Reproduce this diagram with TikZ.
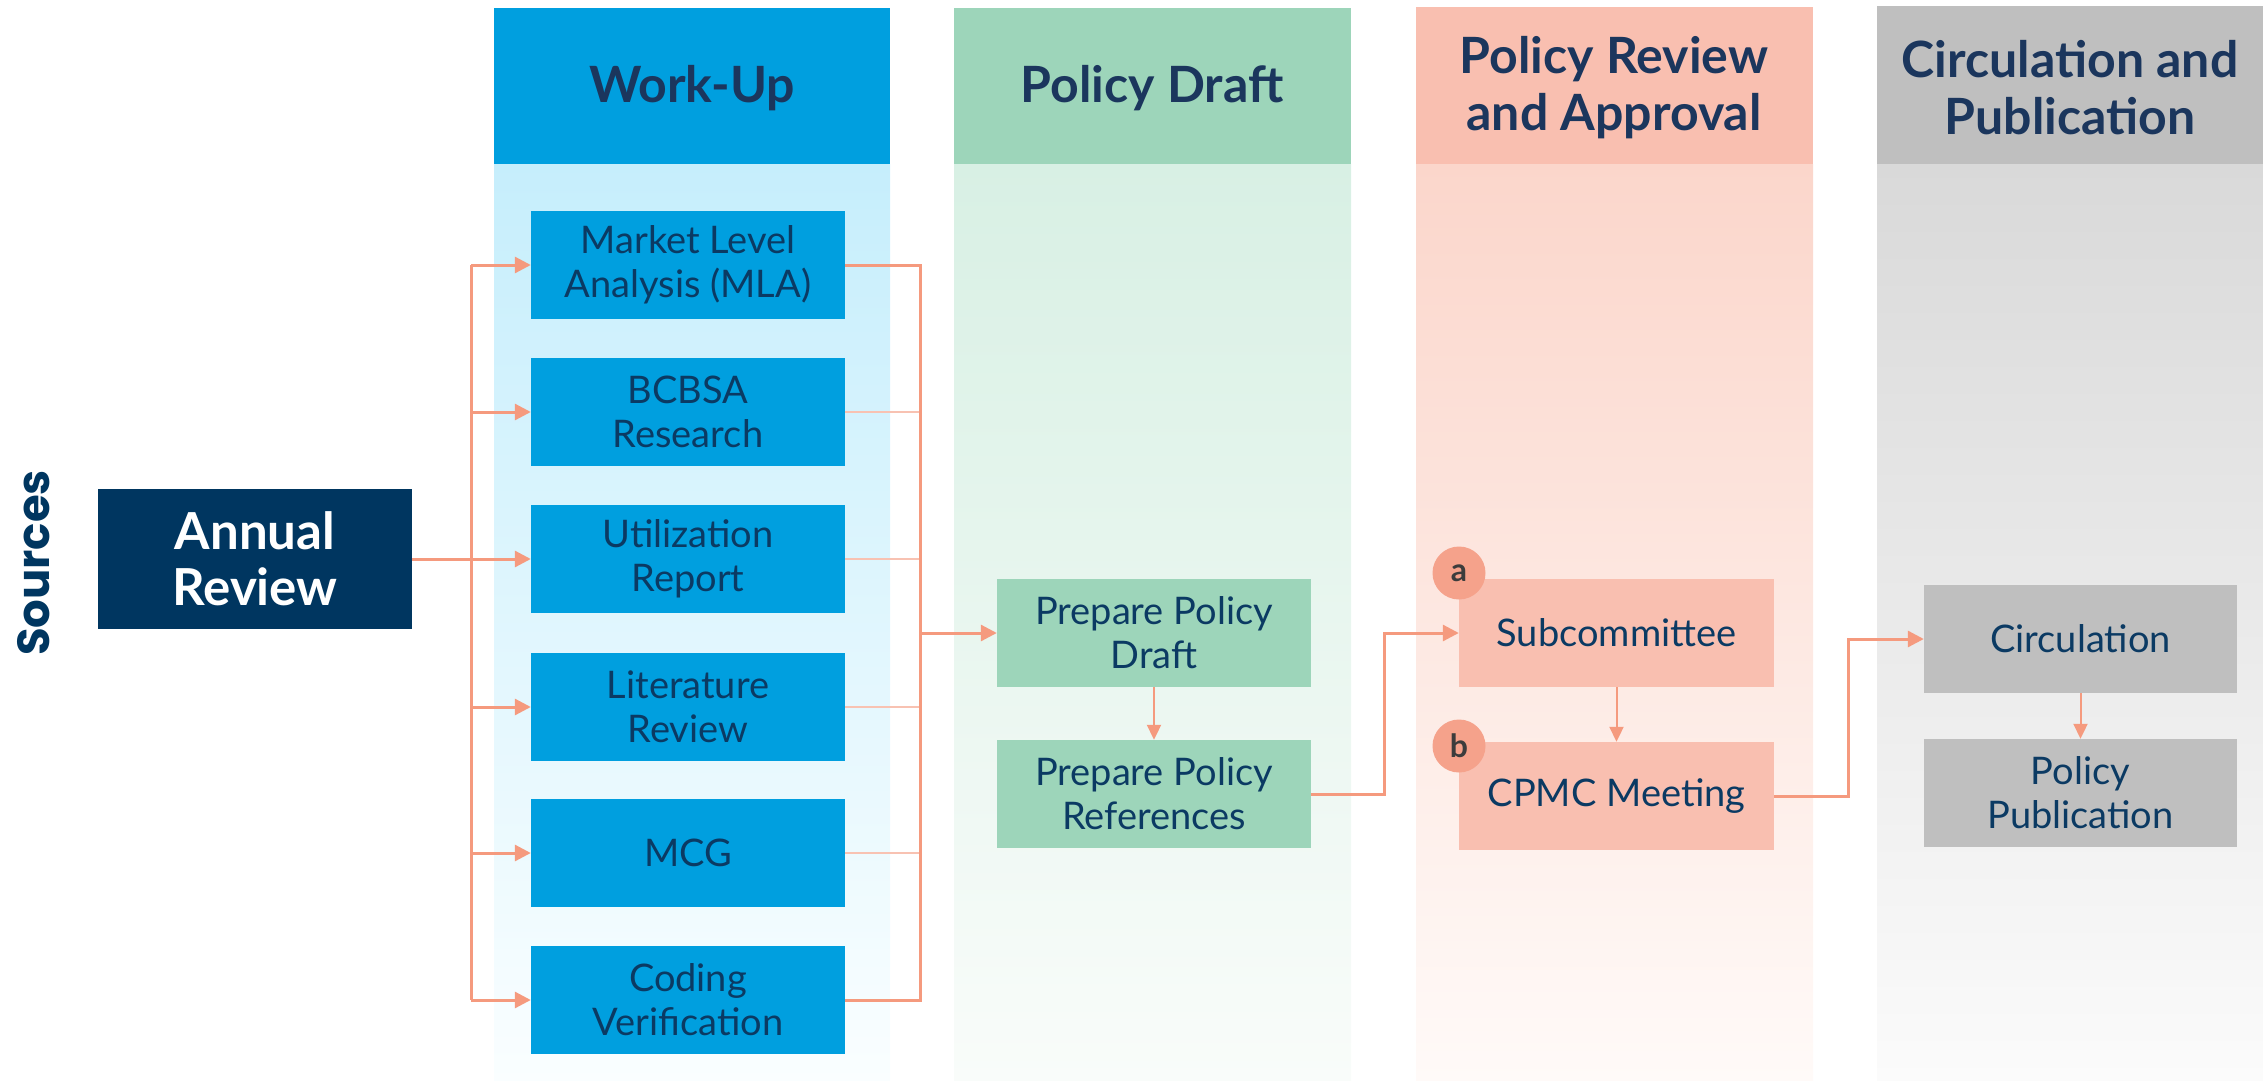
\documentclass[tikz,border=0pt]{standalone}
\usepackage{fontspec}
\setmainfont{Lato}
\newfontfamily\srcfont{Poppins}
\usetikzlibrary{arrows.meta}
\definecolor{wublue}{HTML}{009FDF}
\definecolor{navy}{HTML}{003660}
\definecolor{hdtext}{HTML}{1B365D}
\definecolor{bxtext}{HTML}{0B3A63}
\definecolor{pdgreen}{HTML}{9DD5BA}
\definecolor{prsalmon}{HTML}{F9BFB0}
\definecolor{cpgray}{HTML}{BFBFBF}
\definecolor{conn}{HTML}{F59A7E}
\definecolor{connlight}{HTML}{F8C2B2}
\definecolor{circ}{HTML}{F5A28B}
\definecolor{circtext}{HTML}{3C3C3C}
\tikzset{
  box/.style={rectangle, inner sep=0pt, minimum width=314pt, minimum height=108pt,
    align=center, text=bxtext, font=\fontsize{38}{44}\selectfont},
  hdr/.style={rectangle, inner sep=0pt, align=center, text=hdtext,
    font=\fontsize{50}{57}\selectfont\bfseries},
  mainconn/.style={draw=conn, line width=3pt},
  thinconn/.style={draw=connlight, line width=1.5pt},
  arr/.style={-{Triangle[length=16pt,width=16pt]}},
  smallarr/.style={draw=conn, line width=2pt, -{Triangle[length=15pt,width=14pt]}},
  badge/.style={circle, fill=circ, inner sep=0pt, minimum size=53pt, text=circtext,
    font=\fontsize{32}{34}\selectfont\bfseries}
}
\begin{document}
\begin{tikzpicture}[x=1pt,y=-1pt]
\useasboundingbox (0,0) rectangle (2263,1081);
% column bodies
\shade[top color={rgb,255:red,198;green,238;blue,252}, bottom color={rgb,255:red,250;green,254;blue,255}] (494,164) rectangle (890,1081);
\shade[top color={rgb,255:red,216;green,240;blue,228}, bottom color={rgb,255:red,249;green,252;blue,250}] (954,164) rectangle (1351,1081);
\shade[top color={rgb,255:red,251;green,214;blue,203}, bottom color={rgb,255:red,255;green,250;blue,248}] (1416,164) rectangle (1813,1081);
\shade[top color={rgb,255:red,217;green,217;blue,217}, bottom color={rgb,255:red,251;green,251;blue,251}] (1877,164) rectangle (2263,1081);
% headers
\fill[wublue] (494,8) rectangle (890,164);
\fill[pdgreen] (954,8) rectangle (1351,164);
\fill[prsalmon] (1416,7) rectangle (1813,164);
\fill[cpgray] (1877,6) rectangle (2263,164);
\node[hdr] (h1) at (692,88) {Work-Up};
\node[hdr] (h2) at (1152,88) {Policy Draft};
\node[hdr] (h3) at (1614,88) {Policy Review\\and Approval};
\node[hdr] (h4) at (2070,88) {Circulation and\\Publication};
% sources
\node[rotate=90, text=navy, font=\srcfont\fontsize{45}{50}\selectfont\bfseries] (src) at (34,563) {Sources};
% annual review
\node[box, fill=navy, text=white, minimum height=140pt, font=\fontsize{51}{56}\selectfont\bfseries] (ar) at (255,559) {Annual\\Review};
% work-up boxes
\node[box, fill=wublue] (mla) at (688,265) {Market Level\\Analysis (MLA)};
\node[box, fill=wublue] (bcb) at (688,412) {BCBSA\\Research};
\node[box, fill=wublue] (uti) at (688,559) {Utilization\\Report};
\node[box, fill=wublue] (lit) at (688,707) {Literature\\Review};
\node[box, fill=wublue] (mcg) at (688,853) {MCG};
\node[box, fill=wublue] (cod) at (688,1000) {Coding\\Verification};
% policy draft
\node[box, fill=pdgreen] (dra) at (1154,633) {Prepare Policy\\Draft};
\node[box, fill=pdgreen] (ref) at (1154,794) {Prepare Policy\\References};
% review
\node[box, fill=prsalmon, minimum width=315pt] (sub) at (1616.5,633) {Subcommittee};
\node[box, fill=prsalmon, minimum width=315pt] (cpm) at (1616.5,796) {CPMC Meeting};
% circulation
\node[box, fill=cpgray, minimum width=313pt] (cir) at (2080.5,639) {Circulation};
\node[box, fill=cpgray, minimum width=313pt] (pub) at (2080.5,793) {Policy\\Publication};
% badges
\node[badge] (ba) at (1459,573) {a};
\node[badge] (bb) at (1459,746) {b};
% buses
\coordinate (lb) at (471,0);
\coordinate (rb) at (920,0);
\coordinate (c1) at (1384,0);
\coordinate (c2) at (1848,0);
\draw[mainconn] (lb |- mla.west) -- (lb |- cod.west);
\draw[mainconn] (ar.east) -- (lb |- ar.east);
\foreach \b in {mla,bcb,uti,lit,mcg,cod}{
  \draw[mainconn, arr] (lb |- \b.west) -- (\b.west);
}
\foreach \b in {bcb,uti,lit,mcg}{
  \draw[thinconn] (\b.east) -- (rb |- \b.east);
}
\draw[mainconn] (mla.east) -- (rb |- mla.east) -- (rb |- cod.east) -- (cod.east);
\draw[mainconn, arr] (rb |- dra.west) -- (dra.west);
\draw[smallarr] (dra.south) -- (ref.north);
\draw[mainconn, arr] (ref.east) -- (c1 |- ref.east) -- (c1 |- sub.west) -- (sub.west);
\draw[smallarr] (sub.south) -- (cpm.north);
\draw[mainconn, arr] (cpm.east) -- (c2 |- cpm.east) -- (c2 |- cir.west) -- (cir.west);
\draw[smallarr] (cir.south) -- (pub.north);
\end{tikzpicture}
\end{document}
